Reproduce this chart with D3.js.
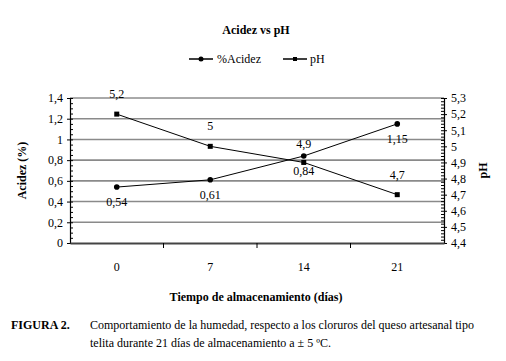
<!DOCTYPE html>
<html>
<head>
<meta charset="utf-8">
<script src="https://cdn.jsdelivr.net/npm/d3@7"></script>
<style>
body { margin: 0; background: #fff; }
</style>
</head>
<body>
<div id="chart"></div>
<script>
var dias = ["0", "7", "14", "21"];
var acidez = [0.54, 0.61, 0.84, 1.15];
var ph = [5.2, 5.0, 4.9, 4.7];
var acidezLabels = ["0,54", "0,61", "0,84", "1,15"];
var phLabels = ["5,2", "5", "4,9", "4,7"];
var leftTicks = [0, 0.2, 0.4, 0.6, 0.8, 1.0, 1.2, 1.4];
var rightTicks = [4.4, 4.5, 4.6, 4.7, 4.8, 4.9, 5.0, 5.1, 5.2, 5.3];

var FONT = "Liberation Serif";

var totalWidth = 506, totalHeight = 361;
var margin = { top: 98, left: 70, bottom: 118, right: 62 };
var width = totalWidth - margin.left - margin.right;
var height = totalHeight - margin.top - margin.bottom;

var comma = function (v) { return d3.format(".1f")(v).replace(".", ",").replace(",0", ""); };

var svg = d3.select("#chart").append("svg")
	.attr("width", totalWidth)
	.attr("height", totalHeight);

var g = svg.append("g")
	.attr("transform", "translate(" + margin.left + "," + margin.top + ")");

var xScale = d3.scaleBand().domain(dias).range([0, width]).padding(0);
var yScale = d3.scaleLinear().domain([0, 1.4]).range([height, 0]);
var y2Scale = d3.scaleLinear().domain([4.4, 5.3]).range([height, 0]);

// gridlines
g.selectAll(".grid")
	.data(leftTicks.slice(1))
	.enter().append("line")
	.attr("x1", 0).attr("x2", width)
	.attr("y1", function (d) { return yScale(d); })
	.attr("y2", function (d) { return yScale(d); })
	.attr("stroke", function (d, i) { return i == leftTicks.length - 2 ? "#555" : "#8a8a8a"; })
	.attr("stroke-width", function (d, i) { return i == leftTicks.length - 2 ? 1 : 1.6; });

// left axis
var yAxis = d3.axisLeft(yScale).tickValues(leftTicks).tickSize(3).tickPadding(4)
	.tickFormat(comma);
var yAxisG = g.append("g").call(yAxis);
var yMinor = d3.axisRight(yScale).ticks(35).tickSize(3).tickFormat("");
g.append("g").call(yMinor).select(".domain").remove();

// right axis
var y2Axis = d3.axisRight(y2Scale).tickValues(rightTicks).tickSize(3).tickPadding(4)
	.tickFormat(comma);
var y2AxisG = g.append("g").attr("transform", "translate(" + width + ",0)").call(y2Axis);
var y2Minor = d3.axisLeft(y2Scale).ticks(45).tickSize(3).tickFormat("");
g.append("g").attr("transform", "translate(" + width + ",0)").call(y2Minor).select(".domain").remove();

// x axis
var xAxis = d3.axisBottom(xScale).tickSize(0).tickPadding(19);
var xAxisG = g.append("g").attr("transform", "translate(0," + height + ")").call(xAxis);
xAxisG.select(".domain").attr("stroke", "#444").attr("stroke-width", 2);
xAxisG.selectAll(".sep")
	.data(dias.slice(1))
	.enter().append("line")
	.attr("x1", function (d) { return xScale(d); })
	.attr("x2", function (d) { return xScale(d); })
	.attr("y1", 0).attr("y2", 5)
	.attr("stroke", "#000");

[yAxisG, y2AxisG, xAxisG].forEach(function (a) {
	a.attr("font-family", FONT).attr("font-size", 12);
	a.selectAll(".tick text").attr("font-family", FONT).attr("font-size", 12);
});
yAxisG.select(".domain").attr("stroke-width", 1.2);
y2AxisG.select(".domain").attr("stroke-width", 1.2);

var cx = function (d, i) { return xScale(dias[i]) + xScale.bandwidth() / 2; };

var lineA = d3.line().x(function (d, i) { return cx(d, i); }).y(function (d) { return yScale(d); });
var lineP = d3.line().x(function (d, i) { return cx(d, i); }).y(function (d) { return y2Scale(d); });

g.append("path").datum(acidez).attr("d", lineA).attr("fill", "none").attr("stroke", "#000").attr("stroke-width", 1);
g.append("path").datum(ph).attr("d", lineP).attr("fill", "none").attr("stroke", "#000").attr("stroke-width", 1);

g.selectAll(".ptA").data(acidez).enter().append("circle")
	.attr("cx", cx).attr("cy", function (d) { return yScale(d); })
	.attr("r", 2.8).attr("fill", "#000");
g.selectAll(".ptP").data(ph).enter().append("rect")
	.attr("x", function (d, i) { return cx(d, i) - 2.5; })
	.attr("y", function (d) { return y2Scale(d) - 2.5; })
	.attr("width", 5).attr("height", 5).attr("fill", "#000");

function txt(sel) {
	return sel.attr("font-family", FONT).attr("font-size", 12).attr("fill", "#000");
}

txt(g.selectAll(".lblA").data(acidez).enter().append("text"))
	.attr("x", cx).attr("y", function (d) { return yScale(d) + 19; })
	.attr("text-anchor", "middle")
	.text(function (d, i) { return acidezLabels[i]; });
txt(g.selectAll(".lblP").data(ph).enter().append("text"))
	.attr("x", cx).attr("y", function (d, i) { return y2Scale(d) - (i == 2 ? 14 : 16); })
	.attr("text-anchor", "middle")
	.text(function (d, i) { return phLabels[i]; });

// titles
txt(svg.append("text")).attr("x", 256).attr("y", 34).attr("text-anchor", "middle")
	.attr("font-weight", "bold").text("Acidez vs pH");

var legend = svg.append("g").attr("transform", "translate(189,59)");
legend.append("line").attr("x1", 0).attr("x2", 24).attr("y1", 0).attr("y2", 0).attr("stroke", "#000").attr("stroke-width", 1.5);
legend.append("circle").attr("cx", 12).attr("cy", 0).attr("r", 2.5).attr("fill", "#000");
txt(legend.append("text")).attr("x", 28).attr("y", 4).text("%Acidez");
legend.append("line").attr("x1", 94).attr("x2", 118).attr("y1", 0).attr("y2", 0).attr("stroke", "#000").attr("stroke-width", 1.5);
legend.append("rect").attr("x", 104).attr("y", -2).attr("width", 4).attr("height", 4).attr("fill", "#000");
txt(legend.append("text")).attr("x", 121).attr("y", 4).text("pH");

txt(svg.append("text")).attr("transform", "translate(26," + (margin.top + height / 2) + ") rotate(-90)")
	.attr("text-anchor", "middle").attr("font-weight", "bold").text("Acidez (%)");
txt(svg.append("text")).attr("transform", "translate(487," + (margin.top + height / 2) + ") rotate(-90)")
	.attr("text-anchor", "middle").attr("font-weight", "bold").text("pH");

txt(svg.append("text")).attr("x", 256).attr("y", 301).attr("text-anchor", "middle")
	.attr("font-weight", "bold").text("Tiempo de almacenamiento (días)");

txt(svg.append("text")).attr("x", 11).attr("y", 329).attr("font-weight", "bold").text("FIGURA 2.");
txt(svg.append("text")).attr("x", 90).attr("y", 329)
	.text("Comportamiento de la humedad, respecto a los cloruros del queso artesanal tipo");
txt(svg.append("text")).attr("x", 90).attr("y", 347)
	.text("telita durante 21 días de almacenamiento a ± 5 ºC.");
</script>
</body>
</html>
